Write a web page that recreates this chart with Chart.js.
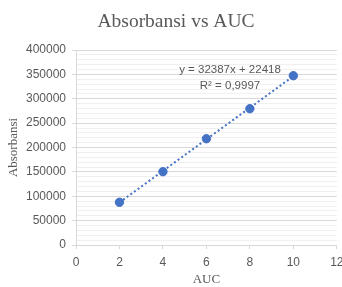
<!DOCTYPE html>
<html>
<head>
<meta charset="utf-8">
<script src="https://cdn.jsdelivr.net/npm/chart.js@4.4.1/dist/chart.umd.min.js"></script>
<style>
html,body{margin:0;padding:0;background:#fff;}
#wrap{width:342px;height:287px;position:relative;}
</style>
</head>
<body>
<div id="wrap"><canvas id="c" width="342" height="287"></canvas></div>
<script>
const auc = [2, 4, 6, 8, 10];
const absorbansi = [87600, 150400, 218000, 279600, 347300];
const trendX = [2, 10];
const trendY = [87192, 346288];
const equationLines = ["y = 32387x + 22418", "R\u00B2 = 0,9997"];
const chartTitle = "Absorbansi vs AUC";
const xTitle = "AUC";
const yTitle = "Absorbansi";

const gray = '#595959';
const blue = '#4472C4';

const annot = {
  id: 'annot',
  afterDatasetsDraw(chart) {
    const {ctx, chartArea} = chart;
    ctx.save();
    ctx.fillStyle = gray;
    ctx.font = '11.5px "Liberation Sans", Arial, sans-serif';
    ctx.textAlign = 'center';
    ctx.textBaseline = 'middle';
    ctx.fillText(equationLines[0], chartArea.left + 154, chartArea.top + 20);
    ctx.fillText(equationLines[1], chartArea.left + 154, chartArea.top + 36);
    ctx.font = '19.5px "Liberation Serif", "Times New Roman", serif';
    ctx.fillText(chartTitle, 176, 22);
    ctx.restore();
  }
};

new Chart(document.getElementById('c'), {
  type: 'scatter',
  data: {
    datasets: [
      {
        label: 'trend',
        type: 'line',
        data: trendX.map((x, i) => ({x, y: trendY[i]})),
        borderColor: blue,
        borderWidth: 2,
        borderDash: [2, 2.5],
        pointRadius: 0,
        fill: false,
        order: 2
      },
      {
        label: 'data',
        data: auc.map((x, i) => ({x, y: absorbansi[i]})),
        backgroundColor: blue,
        borderColor: blue,
        pointRadius: 4.2,
        pointHoverRadius: 4.2,
        order: 1
      }
    ]
  },
  options: {
    responsive: false,
    animation: false,
    devicePixelRatio: 1,
    layout: {padding: {left: 0, right: 5, top: 50, bottom: 0}},
    plugins: {
      legend: {display: false},
      tooltip: {enabled: false},
      title: {display: false}
    },
    scales: {
      x: {
        type: 'linear',
        min: 0, max: 12,
        afterFit(s) { s.height = 42; s.paddingRight = 0; s.paddingLeft = 0; },
        ticks: {stepSize: 2, color: gray, padding: 6,
          font: {family: '"Liberation Sans", Arial, sans-serif', size: 12}},
        grid: {drawOnChartArea: false, drawTicks: true, tickLength: 4, color: '#d9d9d9'},
        border: {color: '#d9d9d9'},
        title: {display: true, text: xTitle, color: gray, padding: 0,
          font: {family: '"Liberation Serif", "Times New Roman", serif', size: 13}}
      },
      y: {
        type: 'linear',
        min: 0, max: 400000,
        afterFit(s) { s.width = 76; s.paddingTop = 0; s.paddingBottom = 0; },
        ticks: {
          stepSize: 10000, autoSkip: false, color: gray, padding: 6,
          font: {family: '"Liberation Sans", Arial, sans-serif', size: 12},
          callback: v => (v % 50000 === 0 ? String(v) : '')
        },
        grid: {
          tickLength: 4,
          color: c => (c.tick && c.tick.value % 50000 === 0 ? '#d9d9d9' : '#f0f0f0'),
          tickColor: c => (c.tick && c.tick.value % 50000 === 0 ? '#d9d9d9' : 'rgba(0,0,0,0)')
        },
        border: {color: '#d9d9d9'},
        title: {display: true, text: yTitle, color: gray, padding: {top: 6, bottom: 0},
          font: {family: '"Liberation Serif", "Times New Roman", serif', size: 13}}
      }
    }
  },
  plugins: [annot]
});
</script>
</body>
</html>
